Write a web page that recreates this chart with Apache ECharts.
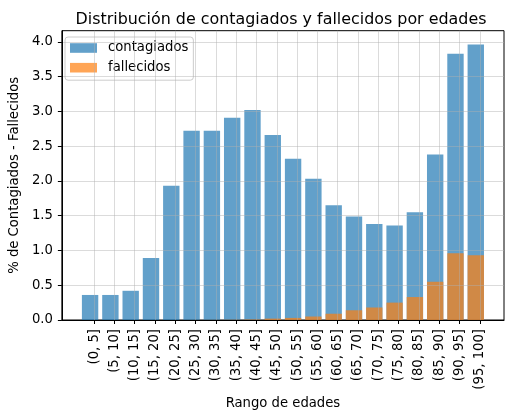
<!DOCTYPE html>
<html><head><meta charset="utf-8">
<script src="https://cdn.jsdelivr.net/npm/echarts@6/dist/echarts.min.js"></script>
<style>html,body{margin:0;padding:0;background:#fff}#c{width:514px;height:419px}</style>
</head><body><div id="c"></div>
<script>
const categories = ['(0, 5]','(5, 10]','(10, 15]','(15, 20]','(20, 25]','(25, 30]','(30, 35]','(35, 40]','(40, 45]','(45, 50]','(50, 55]','(55, 60]','(60, 65]','(65, 70]','(70, 75]','(75, 80]','(80, 85]','(85, 90]','(90, 95]','(95, 100]'];
const contagiados = [0.36,0.36,0.42,0.89,1.93,2.72,2.72,2.91,3.02,2.66,2.32,2.03,1.65,1.49,1.38,1.36,1.55,2.38,3.83,3.96];
const fallecidos = [0.0,0.0,0.0,0.0,0.0,0.001,0.002,0.004,0.008,0.02,0.03,0.05,0.09,0.14,0.18,0.25,0.33,0.55,0.96,0.93];
const yTicks = [0,0.5,1.0,1.5,2.0,2.5,3.0,3.5,4.0];
const tickOffset = 0.2;
const xTicks = categories.map((c,i)=>i+tickOffset);

const font = 'DejaVu Sans';
const fs = 13.2;
const gridL = 58, gridR = 10, xMin = -1.39, xMax = 20.39;
const unitPx = (514 - gridL - gridR) / (xMax - xMin);
const bw = unitPx * 0.8;
const gridColor = 'rgba(176,176,176,0.45)';

const chart = echarts.init(document.getElementById('c'), null, {renderer:'canvas'});
chart.setOption({
  animation: false,
  backgroundColor: '#fff',
  title: {
    text: 'Distribución de contagiados y fallecidos por edades',
    left: 276, textAlign: 'center', top: 5,
    textStyle: {fontFamily: font, fontSize: 15.9, fontWeight: 'normal', color: '#000', lineHeight: 19}
  },
  legend: {
    left: 65, top: 37, orient: 'vertical',
    padding: [3.5,5,5,5], itemGap: 4.7,
    itemWidth: 27, itemHeight: 9.6, icon: 'rect',
    backgroundColor: 'rgba(255,255,255,0.8)', borderColor: '#cccccc', borderWidth: 1, borderRadius: 3,
    textStyle: {fontFamily: font, fontSize: fs, color: '#000', lineHeight: 15, padding: [0,0,0,6]},
    data: ['contagiados','fallecidos']
  },
  grid: {left: gridL, right: gridR, top: 30.7, bottom: 99, show: true, borderColor: '#000', borderWidth: 1, backgroundColor: 'transparent'},
  xAxis: {
    type: 'value', min: xMin, max: xMax, z: 5,
    name: 'Rango de edades', nameLocation: 'middle', nameGap: 74,
    nameTextStyle: {fontFamily: font, fontSize: fs, color: '#000'},
    axisLine: {show: true, onZero: false, lineStyle: {color: '#000', width: 1}},
    axisTick: {show: true, length: 4, lineStyle: {color: '#000'}, customValues: xTicks},
    axisLabel: {rotate: 90, margin: 9, fontFamily: font, fontSize: fs, color: '#000', customValues: xTicks,
      formatter: v => categories[Math.round(v - tickOffset)] || ''},
    splitLine: {show: true, lineStyle: {color: gridColor, width: 1}}
  },
  yAxis: {
    type: 'value', min: 0, max: 4.16, z: 5,
    name: '% de Contagiados - Fallecidos', nameLocation: 'middle', nameGap: 36, nameRotate: 90,
    nameTextStyle: {fontFamily: font, fontSize: fs, color: '#000'},
    axisLine: {show: true, onZero: false, lineStyle: {color: '#000', width: 1}},
    axisTick: {show: true, length: 4, lineStyle: {color: '#000'}, customValues: yTicks},
    axisLabel: {margin: 9, fontFamily: font, fontSize: fs, color: '#000', customValues: yTicks,
      formatter: v => v.toFixed(1)},
    splitLine: {show: true, lineStyle: {color: gridColor, width: 1}}
  },
  series: [
    {name: 'contagiados', type: 'bar', barWidth: bw, barGap: '-100%',
     data: contagiados.map((v,i)=>[i,v]), itemStyle: {color: 'rgba(31,119,180,0.7)'}},
    {name: 'fallecidos', type: 'bar', barWidth: bw, barGap: '-100%',
     data: fallecidos.map((v,i)=>[i,v]), itemStyle: {color: 'rgba(255,127,14,0.7)'}}
  ]
});
</script></body></html>
